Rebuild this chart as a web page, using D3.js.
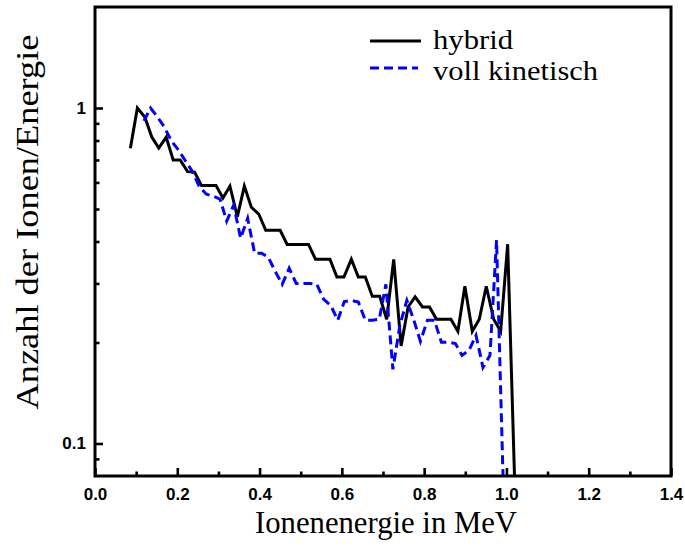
<!DOCTYPE html>
<html><head><meta charset="utf-8">
<script src="https://cdn.jsdelivr.net/npm/d3@7"></script>
<style>
html,body{margin:0;padding:0;background:#fff;}
svg{display:block;}
</style></head>
<body>
<svg id="chart" width="685" height="547"></svg>
<script>
// Ion energy spectrum: hybrid vs. fully kinetic simulation
const hybridEnergy = [0.086,0.103,0.121,0.138,0.155,0.173,0.190,0.207,0.225,0.242,
  0.259,0.276,0.294,0.311,0.328,0.346,0.363,0.380,0.398,0.415,
  0.432,0.450,0.467,0.484,0.501,0.519,0.536,0.553,0.571,0.588,
  0.605,0.623,0.640,0.657,0.674,0.692,0.709,0.726,0.744,0.761,
  0.778,0.796,0.813,0.830,0.848,0.865,0.882,0.899,0.917,0.934,
  0.951,0.969,0.986,1.003,1.021];
const hybridCounts = [0.758,1.0,0.940,0.819,0.760,0.819,0.700,0.700,0.646,0.644,
  0.587,0.587,0.587,0.539,0.585,0.474,0.585,0.506,0.483,0.432,
  0.432,0.432,0.392,0.392,0.392,0.392,0.354,0.354,0.354,0.3135,
  0.3135,0.354,0.3135,0.3135,0.2747,0.2747,0.2345,0.354,0.1954,0.2552,
  0.2737,0.2552,0.2552,0.2345,0.2345,0.2345,0.2160,0.2942,0.2160,0.2345,
  0.2942,0.2345,0.2160,0.3927,0.07];

const kineticEnergy = [0.119,0.135,0.152,0.169,0.186,0.203,0.220,0.236,0.253,0.270,
  0.287,0.304,0.320,0.337,0.354,0.371,0.388,0.405,0.421,0.438,
  0.455,0.472,0.489,0.505,0.522,0.539,0.556,0.573,0.590,0.606,
  0.623,0.640,0.657,0.674,0.691,0.707,0.724,0.741,0.758,0.775,
  0.791,0.808,0.825,0.842,0.859,0.876,0.892,0.909,0.926,0.943,
  0.960,0.976,0.993];
const kineticCounts = [0.915,1.0,0.940,0.875,0.797,0.749,0.695,0.649,0.585,0.554,
  0.546,0.535,0.460,0.513,0.409,0.469,0.369,0.369,0.359,0.326,
  0.298,0.333,0.300,0.300,0.300,0.298,0.269,0.258,0.233,0.265,
  0.267,0.264,0.233,0.233,0.2345,0.298,0.1663,0.225,0.267,0.233,
  0.2016,0.233,0.233,0.2002,0.2002,0.1986,0.1831,0.1895,0.2101,0.1686,
  0.1831,0.4036,0.07];

const seriesNames = ["hybrid", "voll kinetisch"];
const seriesColors = ["#000000", "#0000ff"];
const xMajorTicks = [0, 0.2, 0.4, 0.6, 0.8, 1.0, 1.2, 1.4];
const xMinorTicks = [0.1, 0.3, 0.5, 0.7, 0.9, 1.1, 1.3];
const yMajorTicks = [0.1, 1];
const yMinorTicks = [0.09, 0.2, 0.3, 0.4, 0.5, 0.6, 0.7, 0.8, 0.9];
const xTitle = "Ionenenergie in MeV";
const yTitle = "Anzahl der Ionen/Energie";

const svg = d3.select("#chart");
const plot = {left: 95, right: 671, top: 7, bottom: 476};

const x = d3.scaleLinear().domain([0, 1.4]).range([plot.left, plot.right]);
const y = d3.scaleLog().domain([0.08, 2]).range([plot.bottom, plot.top]);

svg.append("defs").append("clipPath").attr("id", "plotClip")
  .append("rect")
  .attr("x", plot.left).attr("y", plot.top)
  .attr("width", plot.right - plot.left).attr("height", plot.bottom - plot.top);

// axes with inward ticks
function styleAxis(g) {
  g.select(".domain").remove();
  g.selectAll(".tick line").attr("stroke", "#000").attr("stroke-width", 2.6);
  g.selectAll(".tick text")
    .attr("font-family", "'Liberation Sans', Arial, sans-serif")
    .attr("font-weight", "bold")
    .attr("font-size", 17)
    .attr("fill", "#000");
}

svg.append("g")
  .attr("transform", `translate(0,${plot.bottom})`)
  .call(d3.axisBottom(x).tickValues(xMajorTicks).tickSize(-8).tickPadding(12)
    .tickFormat(d3.format(".1f")))
  .call(styleAxis);
svg.append("g")
  .attr("transform", `translate(0,${plot.bottom})`)
  .call(d3.axisBottom(x).tickValues(xMinorTicks).tickSize(-4.5).tickFormat(""))
  .call(styleAxis);

svg.append("g")
  .attr("transform", `translate(${plot.left},0)`)
  .call(d3.axisLeft(y).tickValues(yMajorTicks).tickSize(-8).tickPadding(9)
    .tickFormat(d => d === 1 ? "1" : d3.format(".1f")(d)))
  .call(styleAxis);
svg.append("g")
  .attr("transform", `translate(${plot.left},0)`)
  .call(d3.axisLeft(y).tickValues(yMinorTicks).tickSize(-4.5).tickFormat(""))
  .call(styleAxis);

// data lines
const line = d3.line().x(d => x(d[0])).y(d => y(d[1]));
const hybridData = d3.zip(hybridEnergy, hybridCounts);
const kineticData = d3.zip(kineticEnergy, kineticCounts);

const lines = svg.append("g").attr("clip-path", "url(#plotClip)");
lines.append("path").datum(hybridData)
  .attr("d", line).attr("fill", "none")
  .attr("stroke", seriesColors[0]).attr("stroke-width", 3)
  .attr("stroke-linejoin", "miter");
lines.append("path").datum(kineticData)
  .attr("d", line).attr("fill", "none")
  .attr("stroke", seriesColors[1]).attr("stroke-width", 3)
  .attr("stroke-dasharray", "9,5")
  .attr("stroke-linejoin", "miter");

// frame
svg.append("rect")
  .attr("x", plot.left).attr("y", plot.top)
  .attr("width", plot.right - plot.left).attr("height", plot.bottom - plot.top)
  .attr("fill", "none").attr("stroke", "#000").attr("stroke-width", 3);

// legend
const serif = "'Liberation Serif', 'Times New Roman', serif";
const legend = svg.append("g");
const legendRows = [
  {name: seriesNames[0], color: seriesColors[0], dash: null, y: 41, base: 49, width: 80},
  {name: seriesNames[1], color: seriesColors[1], dash: "9,5", y: 68, base: 80, width: 165}
];
legendRows.forEach(r => {
  legend.append("line")
    .attr("x1", 370).attr("x2", r.dash ? 418 : 421)
    .attr("y1", r.y).attr("y2", r.y)
    .attr("stroke", r.color).attr("stroke-width", 3)
    .attr("stroke-dasharray", r.dash);
  legend.append("text")
    .attr("x", 433).attr("y", r.base)
    .attr("font-family", serif).attr("font-size", 27)
    .attr("textLength", r.width).attr("lengthAdjust", "spacingAndGlyphs")
    .attr("fill", "#000")
    .text(r.name);
});

// axis titles
svg.append("text")
  .attr("x", (plot.left + plot.right) / 2 + 3).attr("y", 533)
  .attr("text-anchor", "middle")
  .attr("font-family", serif).attr("font-size", 31)
  .attr("textLength", 262).attr("lengthAdjust", "spacingAndGlyphs")
  .text(xTitle);

svg.append("text")
  .attr("transform", `translate(38,222) rotate(-90)`)
  .attr("text-anchor", "middle")
  .attr("font-family", serif).attr("font-size", 32)
  .attr("textLength", 375).attr("lengthAdjust", "spacingAndGlyphs")
  .text(yTitle);
</script>
</body></html>
